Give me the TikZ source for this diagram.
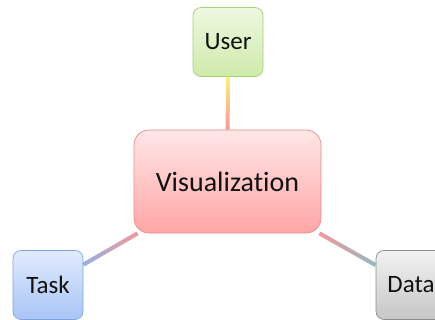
\documentclass[tikz,border=0pt]{standalone}
\usepackage{fontspec}
\setmainfont{Carlito}[Ligatures={NoCommon}]
\usetikzlibrary{calc}

\definecolor{usertop}{HTML}{EEF8E1}
\definecolor{userbot}{HTML}{CFEAAA}
\definecolor{userline}{HTML}{A3D077}
\definecolor{vistop}{HTML}{FFE6E6}
\definecolor{visbot}{HTML}{FFA6A6}
\definecolor{visline}{HTML}{E58A8A}
\definecolor{tasktop}{HTML}{E1EBFC}
\definecolor{taskbot}{HTML}{A8C4F6}
\definecolor{taskline}{HTML}{7FA3E0}
\definecolor{datatop}{HTML}{F2F2F2}
\definecolor{databot}{HTML}{C6C6C6}
\definecolor{dataline}{HTML}{8C8C8C}
\definecolor{cabyellow}{HTML}{FFF27A}
\definecolor{cabpink}{HTML}{F4979A}
\definecolor{cabblue}{HTML}{93AEE6}
\definecolor{cabteal}{HTML}{92B9BF}
\definecolor{ink}{HTML}{111111}

\tikzset{
  x=1pt, y=-1pt,
  box/.style={rounded corners=8pt, line width=0.7pt, minimum width=70pt,
    minimum height=69pt, inner sep=0pt, font=\fontsize{25}{29}\selectfont,
    text=ink},
  hub/.style={box, rounded corners=15pt, minimum width=187pt,
    minimum height=103pt, font=\fontsize{28}{32}\selectfont},
  cable/.style={line width=4pt, line cap=butt},
}

% connector whose colour runs from #3 (at node #1) to #4 (at node #2)
\newcommand\gradlink[4]{%
  \path (#1) -- (#2) coordinate[pos=0] (#1#2s) coordinate[pos=1] (#1#2e);
  \foreach \k in {0,...,29}{%
    \pgfmathsetmacro\mixval{100*(\k+0.5)/30}%
    \pgfmathsetmacro\fa{\k/30}%
    \pgfmathsetmacro\fb{min(1,(\k+1.15)/30)}%
    \draw[cable, draw=#4!\mixval!#3]
      ($(#1#2s)!\fa!(#1#2e)$) -- ($(#1#2s)!\fb!(#1#2e)$);
  }%
}

\begin{document}
\begin{tikzpicture}
  \useasboundingbox (0,0) rectangle (435,320);

  \node[hub, draw=visline, top color=vistop, bottom color=visbot]
    (vis) at (227.5,181.5) {Visualization};
  \node[box, draw=userline, top color=usertop, bottom color=userbot]
    (user) at (228,42) {User};
  \node[box, draw=taskline, top color=tasktop, bottom color=taskbot]
    (task) at (48,285) {Task};
  \node[box, draw=dataline, top color=datatop, bottom color=databot]
    (data) at (411,285) {Data};

  \gradlink{user}{vis}{cabyellow}{cabpink}
  \gradlink{task}{vis}{cabblue}{cabpink}
  \gradlink{data}{vis}{cabteal}{cabpink}
\end{tikzpicture}
\end{document}
